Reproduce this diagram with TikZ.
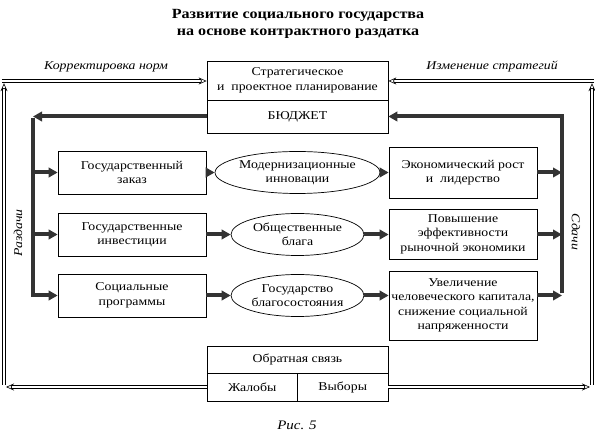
\documentclass[tikz,border=0pt]{standalone}
\usepackage{fontspec}
\setmainfont{Liberation Serif}[FakeStretch=1.15]
\usetikzlibrary{arrows.meta,shapes.geometric}
\begin{document}
\begin{tikzpicture}[x=1pt,y=-1pt,
 txt/.style={font=\fontsize{12}{14.5}\selectfont},
 box/.style={draw, line width=0.7pt, inner sep=1pt, align=center, txt},
 oval/.style={ellipse, draw, line width=0.7pt, minimum width=133pt, minimum height=42pt, inner sep=0pt, align=center, txt},
 thk/.style={line width=4pt, draw=black!80},
 tharr/.style={thk, -{Triangle[length=9pt,width=9.5pt]}},
 dbl/.style={double, double distance=2.6pt, line width=0.6pt},
 dblarr/.style={dbl, -{Stealth[open, length=8pt, width=7pt, line width=0.6pt]}},
 lbl/.style={font=\itshape\fontsize{12}{14}\selectfont},
]
\useasboundingbox (0,0) rectangle (595,435);

\node[font=\bfseries\fontsize{14}{17}\selectfont, align=center] (title) at (298,23.5)
  {Развитие социального государства\\на основе контрактного раздатка};

\node[box, minimum width=181pt, minimum height=39pt] (plan) at (297.5,80.5)
  {Стратегическое\\и\ \ проектное планирование};
\node[box, minimum width=181pt, minimum height=33pt] (budget) at (297.5,116.5) {БЮДЖЕТ};

\node[box, minimum width=148pt, minimum height=43pt] (l1) at (132,172.5) {Государственный\\заказ};
\node[box, minimum width=148pt, minimum height=43pt] (l2) at (132,234.5) {Государственные\\инвестиции};
\node[box, minimum width=148pt, minimum height=43pt] (l3) at (132,295.5) {Социальные\\программы};

\node[oval] (e1) at (297.5,172.5) {Модернизационные\\инновации};
\node[oval] (e2) at (297.5,234.5) {Общественные\\блага};
\node[oval] (e3) at (297.5,295.5) {Государство\\благосостояния};

\node[box, minimum width=148pt, minimum height=51pt] (r1) at (463,172.5) {Экономический рост\\и\ \ лидерство};
\node[box, minimum width=148pt, minimum height=50pt] (r2) at (463,234) {Повышение\\эффективности\\рыночной экономики};
\node[box, minimum width=148pt, minimum height=69pt] (r3) at (463,305.5) {Увеличение\\человеческого капитала,\\снижение социальной\\напряженности};

\node[box, minimum width=181pt, minimum height=27pt] (fb) at (297.5,359.5) {Обратная связь};
\node[box, minimum width=90.5pt, minimum height=28pt] (compl) at (252.25,387) {Жалобы};
\node[box, minimum width=90.5pt, minimum height=28pt] (vote) at (342.75,387) {Выборы};

% thick lines
\coordinate (lt) at (33,116.5);
\coordinate (lb) at (33,295.5);
\coordinate (rt) at (562,116.5);
\coordinate (rb) at (562,295.5);
\draw[tharr] (budget.west) -- (lt);
\draw[thk] ([yshift=-2pt]lt) -- ([yshift=2pt]lb);
\draw[tharr] (l1.west -| lt) -- (l1.west);
\draw[tharr] (l2.west -| lt) -- (l2.west);
\draw[tharr] ([xshift=-2pt]lb) -- (l3.west);
\draw[tharr] (l1.east) -- (e1.west);
\draw[tharr] (l2.east) -- (e2.west);
\draw[tharr] (l3.east) -- (e3.west);
\draw[tharr] (e1.east) -- (r1.west);
\draw[tharr] (e2.east) -- (e2.east -| r2.west);
\draw[tharr] (e3.east) -- (e3.east -| r3.west);
\draw[tharr] (r1.east) -- (r1.east -| rt);
\draw[tharr] (e2.east -| r2.east) -- (e2.east -| rt);
\draw[tharr] (e3.east -| r3.east) -- (rb);
\draw[thk] ([yshift=2pt]rb) -- ([yshift=-2pt]rt);
\draw[tharr] ([xshift=2pt]rt) -- (budget.east);

% double lines
\coordinate (bl) at (4,387);
\coordinate (tl) at (4,81);
\coordinate (br) at (592,387);
\coordinate (tr) at (592,81);
\draw[dblarr, shorten >=2pt] (compl.west) -- (bl);
\draw[dblarr, shorten >=2.2pt] ([yshift=2.2pt]bl) -- (tl);
\draw[dblarr] ([xshift=-2.2pt]tl) -- (tl -| plan.west);
\draw[dblarr, shorten >=2pt] (vote.east) -- (br);
\draw[dblarr, shorten >=2.2pt] ([yshift=2.2pt]br) -- (tr);
\draw[dblarr] ([xshift=2.2pt]tr) -- (tr -| plan.east);

% labels
\node[lbl] (korr) at (106,67) {Корректировка норм};
\node[lbl] (izm) at (492,67) {Изменение стратегий};
\node[lbl, rotate=90] (razd) at (18,233) {Раздачи};
\node[lbl, rotate=-90] (sdachi) at (576,232) {Сдачи};
\node[font=\itshape\fontsize{13}{15}\selectfont] (cap) at (297,425) {Рис. 5};
\end{tikzpicture}
\end{document}
